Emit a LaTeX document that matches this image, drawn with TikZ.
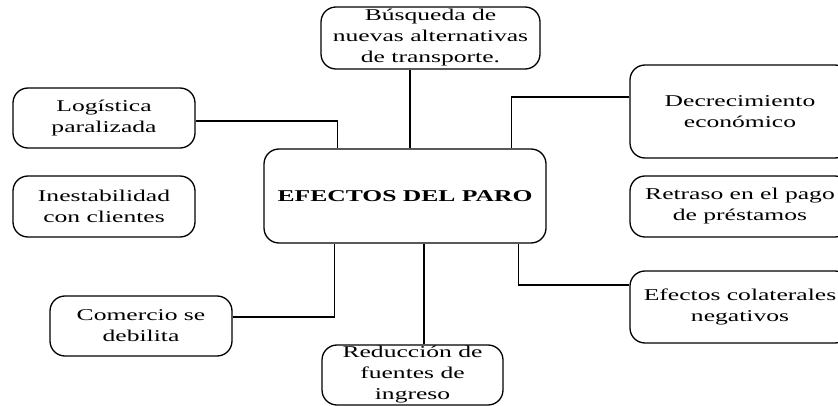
\documentclass[tikz,border=0pt]{standalone}
\usepackage{fontspec}
\setmainfont{Liberation Serif}[FakeStretch=1.55]
\begin{document}
\begin{tikzpicture}[x=1pt,y=-1pt,
  box/.style={draw, line width=1.3pt, rounded corners=15pt, inner sep=0pt,
    align=center, font=\fontsize{16.5}{21}\selectfont},
  link/.style={line width=1.3pt}]
\useasboundingbox (0,0) rectangle (838,406);
\clip (0,0) rectangle (838,406);
% nodes
\node[box, minimum width=282pt, minimum height=94pt] (cen) at (405,196)
  {\textbf{EFECTOS DEL PARO}};
\node[box, minimum width=219pt, minimum height=62pt] (bus) at (430.5,38)
  {Búsqueda de\\nuevas alternativas\\de transporte.};
\node[box, minimum width=182pt, minimum height=60pt] (log) at (104,118)
  {Logística\\paralizada};
\node[box, minimum width=182pt, minimum height=61pt] (ine) at (104,206.5)
  {Inestabilidad\\con clientes};
\node[box, minimum width=182pt, minimum height=60pt] (com) at (141,326)
  {Comercio se\\debilita};
\node[box, minimum width=181pt, minimum height=60pt] (red) at (412.5,375)
  {Reducción de\\fuentes de\\ingreso};
\node[box, minimum width=220pt, minimum height=93pt] (dec) at (740,111.5)
  {Decrecimiento\\económico};
\node[box, minimum width=220pt, minimum height=61pt] (ret) at (740,206.5)
  {Retraso en el pago\\de préstamos};
\node[box, minimum width=220pt, minimum height=72pt] (efe) at (740,307)
  {Efectos colaterales\\negativos};
% connectors
\draw[link] ([yshift=-3pt]log.east) -| ([xshift=74pt]cen.north west);
\draw[link] ([xshift=-20.5pt]bus.south) -- ([xshift=-20.5pt]bus.south |- cen.north);
\draw[link] ([yshift=14.5pt]dec.west) -| ([xshift=-35pt]cen.north east);
\draw[link] ([yshift=9pt]com.east) -| ([xshift=71pt]cen.south west);
\draw[link] ([xshift=11.5pt]red.north) -- ([xshift=11.5pt]red.north |- cen.south);
\draw[link] ([yshift=22pt]efe.west) -| ([xshift=-28pt]cen.south east);
\end{tikzpicture}
\end{document}
